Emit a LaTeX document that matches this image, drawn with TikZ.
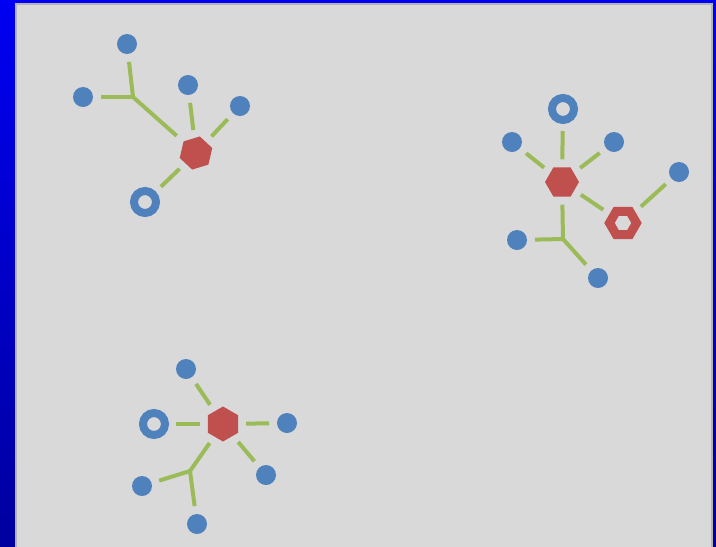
\documentclass[tikz,border=0pt]{standalone}
\usetikzlibrary{shapes.geometric}
\definecolor{bgtop}{HTML}{0000F2}
\definecolor{bgbot}{HTML}{00009E}
\definecolor{panel}{HTML}{D9D9D9}
\definecolor{panelline}{HTML}{B4B4B4}
\definecolor{atomblue}{HTML}{4F81BD}
\definecolor{atomred}{HTML}{C0504D}
\definecolor{bond}{HTML}{9BBB59}
\tikzset{
  dot/.style={circle,fill=atomblue,minimum size=20pt,inner sep=0pt,outer sep=8pt},
  ring/.style={circle,draw=atomblue,line width=8pt,minimum size=22pt,inner sep=0pt,outer sep=11pt},
  hexa/.style={regular polygon,regular polygon sides=6,fill=atomred,minimum size=34pt,inner sep=0pt,outer sep=8pt},
  hexring/.style={regular polygon,regular polygon sides=6,draw=atomred,line width=9pt,minimum size=27pt,inner sep=0pt,outer sep=12pt},
  bondline/.style={draw=bond,line width=4pt}
}
\begin{document}
\begin{tikzpicture}[x=1pt,y=-1pt]
\useasboundingbox (0,0) rectangle (716,547);
\shade[top color=bgtop,bottom color=bgbot] (0,0) rectangle (716,547);
\filldraw[fill=panel,draw=panelline,line width=2pt] (16,4) rectangle (712,552);

% molecule 1
\node[hexa,shape border rotate=17] (h1) at (196,153) {};
\node[dot] (a1) at (127,44) {};
\node[dot] (a2) at (83,97) {};
\node[dot] (a3) at (188,85) {};
\node[dot] (a4) at (240,106) {};
\node[ring] (r1) at (145,202) {};
\coordinate (j1) at (133,97);
\draw[bondline] (a1) -- (j1);
\draw[bondline] (a2) -- (j1);
\draw[bondline] (j1) -- (h1);
\draw[bondline] (a3) -- (h1);
\draw[bondline] (a4) -- (h1);
\draw[bondline] (r1) -- (h1);

% molecule 2
\node[hexa] (h2) at (562,182) {};
\node[hexring] (hr2) at (623,223) {};
\node[ring] (r2) at (563,109) {};
\node[dot] (b1) at (512,142) {};
\node[dot] (b2) at (614,142) {};
\node[dot] (b3) at (679,172) {};
\node[dot] (b4) at (517,240) {};
\node[dot] (b5) at (598,278) {};
\coordinate (j2) at (563,239);
\draw[bondline] (r2) -- (h2);
\draw[bondline] (b1) -- (h2);
\draw[bondline] (b2) -- (h2);
\draw[bondline] (h2) -- (hr2);
\draw[bondline] (hr2) -- (b3);
\draw[bondline] (h2) -- (j2);
\draw[bondline] (b4) -- (j2);
\draw[bondline] (j2) -- (b5);

% molecule 3
\node[hexa,shape border rotate=30,minimum size=35pt] (h3) at (223,424) {};
\node[ring] (r3) at (154,424) {};
\node[dot] (c1) at (186,369) {};
\node[dot] (c2) at (287,423) {};
\node[dot] (c3) at (266,475) {};
\node[dot] (c4) at (142,486) {};
\node[dot] (c5) at (197,524) {};
\coordinate (j3) at (190,471);
\draw[bondline] (r3) -- (h3);
\draw[bondline] (h3) -- (c2);
\draw[bondline] (c1) -- (h3);
\draw[bondline] (h3) -- (c3);
\draw[bondline] (h3) -- (j3);
\draw[bondline] (j3) -- (c4);
\draw[bondline] (j3) -- (c5);
\end{tikzpicture}
\end{document}
